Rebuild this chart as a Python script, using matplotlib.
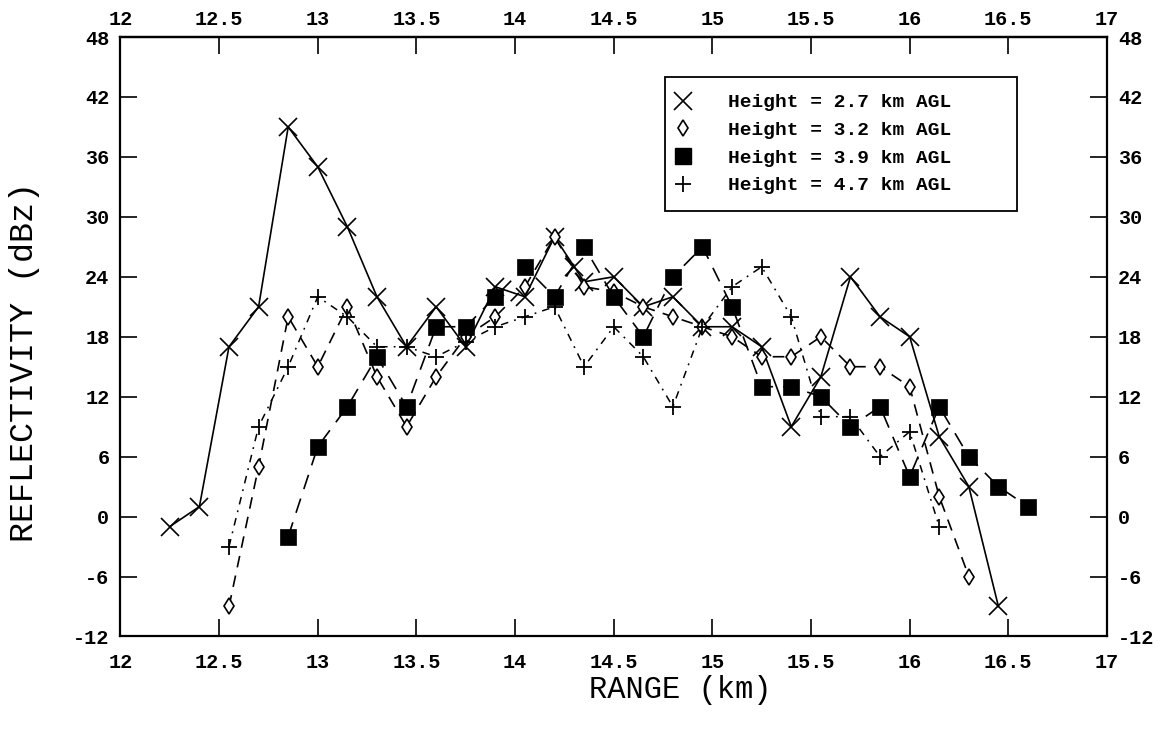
import matplotlib
matplotlib.use("Agg")
import matplotlib.pyplot as plt
from matplotlib.lines import Line2D
from matplotlib.ticker import FuncFormatter

# ---- data (range in km, reflectivity in dBz) ----
range_27 = [12.25, 12.4, 12.55, 12.7, 12.85, 13.0, 13.15, 13.3, 13.45, 13.6,
            13.75, 13.9, 14.05, 14.2, 14.3, 14.35, 14.5, 14.65, 14.8, 14.95,
            15.1, 15.25, 15.4, 15.55, 15.7, 15.85, 16.0, 16.15, 16.3, 16.45]
dbz_27 = [-1, 1, 17, 21, 39, 35, 29, 22, 17, 21,
          17, 23, 22, 28, 25, 23.5, 24, 21, 22, 19,
          19, 17, 9, 14, 24, 20, 18, 8, 3, -9]

range_32 = [12.55, 12.7, 12.85, 13.0, 13.15, 13.3, 13.45, 13.6, 13.75, 13.9,
            14.05, 14.2, 14.35, 14.5, 14.65, 14.8, 14.95, 15.1, 15.25, 15.4,
            15.55, 15.7, 15.85, 16.0, 16.15, 16.3]
dbz_32 = [-9, 5, 20, 15, 21, 14, 9, 14, 18, 20,
          23, 28, 23, 22.5, 21, 20, 19, 18, 16, 16,
          18, 15, 15, 13, 2, -6]

range_39 = [12.85, 13.0, 13.15, 13.3, 13.45, 13.6, 13.75, 13.9, 14.05, 14.2,
            14.35, 14.5, 14.65, 14.8, 14.95, 15.1, 15.25, 15.4, 15.55, 15.7,
            15.85, 16.0, 16.15, 16.3, 16.45, 16.6]
dbz_39 = [-2, 7, 11, 16, 11, 19, 19, 22, 25, 22,
          27, 22, 18, 24, 27, 21, 13, 13, 12, 9,
          11, 4, 11, 6, 3, 1]

range_47 = [12.55, 12.7, 12.85, 13.0, 13.15, 13.3, 13.45, 13.6, 13.75, 13.9,
            14.05, 14.2, 14.35, 14.5, 14.65, 14.8, 14.95, 15.1, 15.25, 15.4,
            15.55, 15.7, 15.85, 16.0, 16.15]
dbz_47 = [-3, 9, 15, 22, 20, 17, 17, 16, 17.5, 19,
          20, 21, 15, 19, 16, 11, 19, 23, 25, 20,
          10, 10, 6, 8.5, -1]

labels = ["Height = 2.7 km AGL", "Height = 3.2 km AGL",
          "Height = 3.9 km AGL", "Height = 4.7 km AGL"]
x_ticks = [12, 12.5, 13, 13.5, 14, 14.5, 15, 15.5, 16, 16.5, 17]
y_ticks = [-12, -6, 0, 6, 12, 18, 24, 30, 36, 42, 48]

plt.rcParams['axes.unicode_minus'] = False
MONO = ['Liberation Mono', 'DejaVu Sans Mono']
TICK_FS = 14.5
fmt = FuncFormatter(lambda v, p: f"{v:g}")

fig = plt.figure(figsize=(11.63, 7.33), dpi=100)
ax = fig.add_axes([0.1036, 0.1317, 0.9518 - 0.1036, 0.9495 - 0.1317])

# 2.7 km : solid line, x markers
ax.plot(range_27, dbz_27, color='black', lw=1.2, ls='-',
        marker='x', ms=13, mew=1.2, mfc='none', mec='black')
# 3.2 km : long dashes, thin hollow diamonds
ax.plot(range_32, dbz_32, color='black', lw=1.2, dashes=(7, 5),
        marker='d', ms=8, mew=1.2, mfc='white', mec='black')
# 3.9 km : long dashes, filled squares
ax.plot(range_39, dbz_39, color='black', lw=1.2, dashes=(9, 6),
        marker='s', ms=12, mew=0.5, mfc='black', mec='black')
# 4.7 km : dash-dot, plus markers
ax.plot(range_47, dbz_47, color='black', lw=1.1, dashes=(5, 4, 1.2, 4),
        marker='+', ms=11, mew=1.3, mec='black')

ax.set_xlim(12, 17)
ax.set_ylim(-12, 48)
ax.set_xticks(x_ticks)
ax.set_yticks(y_ticks)
ax.xaxis.set_major_formatter(fmt)
ax.yaxis.set_major_formatter(fmt)

ax.tick_params(axis='x', which='major', direction='in', length=12, width=1.2,
               top=False, labeltop=False, pad=12)
ax.tick_params(axis='y', which='major', direction='in', length=12, width=1.2,
               right=True, labelright=True, pad=8)

# top axis with its own (smaller) label gap
top = ax.secondary_xaxis('top')
top.set_xticks(x_ticks)
top.xaxis.set_major_formatter(fmt)
top.tick_params(axis='x', which='major', direction='in', length=12, width=1.2, pad=6)
top.spines['top'].set_linewidth(1.6)

for a in (ax, top):
    for lab in a.get_xticklabels() + a.get_yticklabels():
        lab.set_family(MONO)
        lab.set_fontweight('bold')
        lab.set_fontsize(TICK_FS)
for t in ax.yaxis.get_major_ticks():
    for l in (t.label1, t.label2):
        l.set_family(MONO); l.set_fontweight('bold'); l.set_fontsize(TICK_FS)

for sp in ax.spines.values():
    sp.set_linewidth(1.6)

fig.text(680 / 1163, 1 - 690 / 733, "RANGE (km)", family=MONO, fontsize=22,
         ha='center', va='center')
fig.text(25 / 1163, 1 - 362 / 733, "REFLECTIVITY (dBz)", family=MONO, fontsize=24,
         ha='center', va='center', rotation=90)

handles = [
    Line2D([], [], ls='none', marker='x', ms=13, mew=1.2, color='black'),
    Line2D([], [], ls='none', marker='d', ms=8, mew=1.2, mfc='white', mec='black'),
    Line2D([], [], ls='none', marker='s', ms=12, mfc='black', mec='black'),
    Line2D([], [], ls='none', marker='+', ms=11, mew=1.3, color='black'),
]
leg = ax.legend(handles, labels, loc='upper left',
                bbox_to_anchor=(0.552, 0.745, 0.357, 0.188), mode='expand',
                borderaxespad=0, borderpad=0.85, handlelength=0.1,
                handletextpad=2.3, labelspacing=0.52, numpoints=1,
                fancybox=False, framealpha=1, edgecolor='black',
                prop={'family': MONO, 'weight': 'bold', 'size': 14})
leg.get_frame().set_linewidth(1.3)

fig.savefig("out.png", dpi=100)
